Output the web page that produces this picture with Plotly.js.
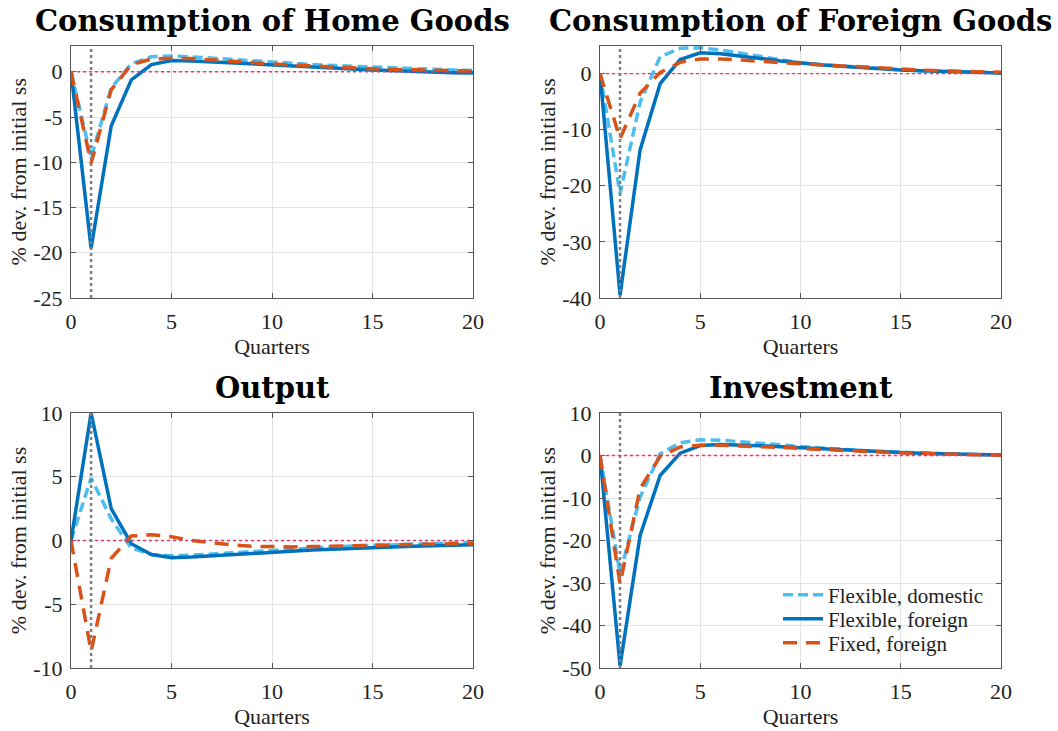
<!DOCTYPE html>
<html><head><meta charset="utf-8">
<script src="https://cdn.plot.ly/plotly-3.0.1.min.js"></script>
<style>html,body{margin:0;padding:0;background:#fff}#chart{width:1058px;height:731px}</style>
</head><body><div id="chart"></div><script>
// ---- data ----
const quarters = [0,1,2,3,4,5,6,7,8,9,10,11,12,13,14,15,16,17,18,19,20];
const seriesNames = ["Flexible, domestic", "Flexible, foreign", "Fixed, foreign"];
const panelTitles = ["Consumption of Home Goods", "Consumption of Foreign Goods", "Output", "Investment"];

const homeFlexDom = [0,-9.5,-1.8,0.9,1.65,1.75,1.65,1.5,1.35,1.2,1.05,0.92,0.8,0.7,0.6,0.5,0.42,0.34,0.27,0.2,0.15];
const homeFlexFor = [0,-19.5,-6.0,-0.9,0.8,1.25,1.2,1.1,1.0,0.9,0.8,0.67,0.55,0.43,0.31,0.2,0.11,0.03,-0.04,-0.1,-0.15];
const homeFixFor  = [0,-10.1,-2.0,0.8,1.4,1.5,1.45,1.33,1.18,1.02,0.85,0.73,0.62,0.52,0.42,0.33,0.26,0.2,0.15,0.11,0.08];

const foreignFlexDom = [0,-21.4,-5.1,3.0,4.5,4.6,4.2,3.6,3.0,2.4,1.9,1.6,1.35,1.1,0.85,0.68,0.52,0.4,0.3,0.2,0.12];
const foreignFlexFor = [0,-39.5,-13.6,-1.8,2.5,3.7,3.55,3.2,2.7,2.25,1.85,1.55,1.3,1.05,0.85,0.65,0.5,0.38,0.28,0.18,0.1];
const foreignFixFor  = [0,-11.6,-3.5,0.2,2.0,2.6,2.6,2.45,2.2,1.95,1.75,1.55,1.35,1.15,0.95,0.8,0.62,0.5,0.4,0.3,0.22];

const outputFlexDom = [0,4.9,1.7,-0.6,-1.1,-1.2,-1.15,-1.05,-0.95,-0.85,-0.75,-0.65,-0.57,-0.5,-0.43,-0.37,-0.32,-0.27,-0.23,-0.2,-0.17];
const outputFlexFor = [0,10.0,2.5,-0.25,-1.1,-1.35,-1.3,-1.2,-1.1,-1.0,-0.9,-0.82,-0.75,-0.68,-0.6,-0.55,-0.5,-0.45,-0.4,-0.37,-0.33];
const outputFixFor  = [0,-8.7,-1.4,0.35,0.45,0.3,0.0,-0.2,-0.35,-0.45,-0.5,-0.5,-0.48,-0.45,-0.42,-0.38,-0.35,-0.32,-0.28,-0.25,-0.22];

const investFlexDom = [0,-27.8,-9.8,0.4,3.0,3.7,3.6,3.3,2.9,2.5,2.1,1.75,1.45,1.2,0.95,0.75,0.55,0.4,0.28,0.18,0.1];
const investFlexFor = [0,-49.5,-18.8,-4.7,0.55,2.35,2.6,2.5,2.3,2.05,1.8,1.55,1.3,1.1,0.9,0.72,0.55,0.42,0.3,0.2,0.1];
const investFixFor  = [0,-30.2,-7.8,-0.2,2.0,2.4,2.4,2.3,2.1,1.9,1.65,1.4,1.2,1.0,0.8,0.62,0.48,0.35,0.25,0.15,0.07];

const xTickVals = [0,5,10,15,20];
const xTickText = ["0","5","10","15","20"];
const homeTickVals = [-25,-20,-15,-10,-5,0];
const homeTickText = ["-25","-20","-15","-10","-5","0"];
const foreignTickVals = [-40,-30,-20,-10,0];
const foreignTickText = ["-40","-30","-20","-10","0"];
const outputTickVals = [-10,-5,0,5,10];
const outputTickText = ["-10","-5","0","5","10"];
const investTickVals = [-50,-40,-30,-20,-10,0,10];
const investTickText = ["-50","-40","-30","-20","-10","0","10"];
const homeRange = [-25, 2.9];
const foreignRange = [-40, 5];
const outputRange = [-10, 10];
const investRange = [-50, 10];
const shockQuarter = 1;
const steadyState = 0;
const xLabel = "Quarters";
const yLabel = "% dev. from initial ss";

// ---- styling ----
const cDom = "#4DBEEE", cFor = "#0072BD", cFix = "#D95319";
const serif = "'Liberation Serif', 'Times New Roman', Times, serif";
const legendIds = ["legend", "legend2", "legend3"];

const panels = [
  {xa:"x", ya:"y", d:homeFlexDom, f:homeFlexFor, x:homeFixFor},
  {xa:"x2", ya:"y2", d:foreignFlexDom, f:foreignFlexFor, x:foreignFixFor},
  {xa:"x3", ya:"y3", d:outputFlexDom, f:outputFlexFor, x:outputFixFor},
  {xa:"x4", ya:"y4", d:investFlexDom, f:investFlexFor, x:investFixFor}
];
const data = [];
panels.forEach((p, i) => {
  const leg = i === 3;
  data.push({x:quarters, y:p.d, xaxis:p.xa, yaxis:p.ya, type:"scatter", mode:"lines", name:seriesNames[0], showlegend:leg,
    legend:legendIds[0], line:{color:cDom, width:3.5, dash:"10px,5px"}});
  data.push({x:quarters, y:p.f, xaxis:p.xa, yaxis:p.ya, type:"scatter", mode:"lines", name:seriesNames[1], showlegend:leg,
    legend:legendIds[1], line:{color:cFor, width:3.5}});
  data.push({x:quarters, y:p.x, xaxis:p.xa, yaxis:p.ya, type:"scatter", mode:"lines", name:seriesNames[2], showlegend:leg,
    legend:legendIds[2], line:{color:cFix, width:3.5, dash:"14px,9px"}});
});

const txt = "#222";
function xaxisCfg(dom, anchor) {
  return {domain:dom, anchor:anchor, range:[quarters[0], quarters[quarters.length-1]], tickvals:xTickVals, ticktext:xTickText,
    showgrid:true, gridcolor:"#e3e3e3", gridwidth:1, zeroline:false, showline:true, linecolor:"#555", linewidth:1,
    mirror:"ticks", ticks:"inside", ticklen:5, tickcolor:"#555", tickfont:{family:serif, size:22, color:txt},
    ticklabelstandoff:4,
    title:{text:xLabel, font:{family:serif, size:22, color:txt}, standoff:5}};
}
function yaxisCfg(dom, anchor, range, tv, tt) {
  return {domain:dom, anchor:anchor, range:range, tickvals:tv, ticktext:tt,
    showgrid:true, gridcolor:"#e3e3e3", gridwidth:1, zeroline:false, showline:true, linecolor:"#555", linewidth:1,
    mirror:"ticks", ticks:"inside", ticklen:5, tickcolor:"#555", tickfont:{family:serif, size:22, color:txt},
    ticklabelstandoff:3,
    title:{text:yLabel, font:{family:serif, size:22, color:txt}, standoff:0}};
}
const xL = [71/1058, 473/1058], xR = [600/1058, 1001/1058];
const yT = [1-298/731, 1-45.5/731], yB = [1-668/731, 1-413/731];

const shapes = [];
panels.forEach(p => {
  shapes.push({type:"line", xref:p.xa + " domain", yref:p.ya, x0:0, x1:1, y0:steadyState, y1:steadyState,
    line:{color:"#ff2a6a", width:1.3, dash:"dot"}, layer:"above"});
  shapes.push({type:"line", xref:p.xa, yref:p.ya + " domain", x0:shockQuarter, x1:shockQuarter, y0:0, y1:1,
    line:{color:"#7f7f7f", width:2.5, dash:"dot"}, layer:"above"});
});

const titleFont = {family:"DejaVu Serif", size:29, color:"#000", weight:"bold"};
const annotations = [
  {text:panelTitles[0], x:(xL[0]+xL[1])/2, y:1-21/731},
  {text:panelTitles[1], x:(xR[0]+xR[1])/2, y:1-21/731},
  {text:panelTitles[2], x:(xL[0]+xL[1])/2, y:1-388/731},
  {text:panelTitles[3], x:(xR[0]+xR[1])/2, y:1-388/731}
].map(a => Object.assign(a, {xref:"paper", yref:"paper", xanchor:"center", yanchor:"middle", showarrow:false, font:titleFont}));

function legendCfg(centerY) {
  return {x:778/1058, y:1-centerY/731, xanchor:"left", yanchor:"middle", bgcolor:"rgba(0,0,0,0)", borderwidth:0,
    font:{family:serif, size:21, color:txt}, tracegroupgap:0, itemwidth:40};
}

const layout = {
  width:1058, height:731, margin:{l:0, r:0, t:0, b:0}, paper_bgcolor:"#fff", plot_bgcolor:"#fff",
  showlegend:true,
  legend:legendCfg(595), legend2:legendCfg(619), legend3:legendCfg(643),
  xaxis:xaxisCfg(xL, "y"), yaxis:yaxisCfg(yT, "x", homeRange, homeTickVals, homeTickText),
  xaxis2:xaxisCfg(xR, "y2"), yaxis2:yaxisCfg(yT, "x2", foreignRange, foreignTickVals, foreignTickText),
  xaxis3:xaxisCfg(xL, "y3"), yaxis3:yaxisCfg(yB, "x3", outputRange, outputTickVals, outputTickText),
  xaxis4:xaxisCfg(xR, "y4"), yaxis4:yaxisCfg(yB, "x4", investRange, investTickVals, investTickText),
  shapes:shapes, annotations:annotations
};
Plotly.newPlot("chart", data, layout, {displayModeBar:false, staticPlot:true});
</script></body></html>
